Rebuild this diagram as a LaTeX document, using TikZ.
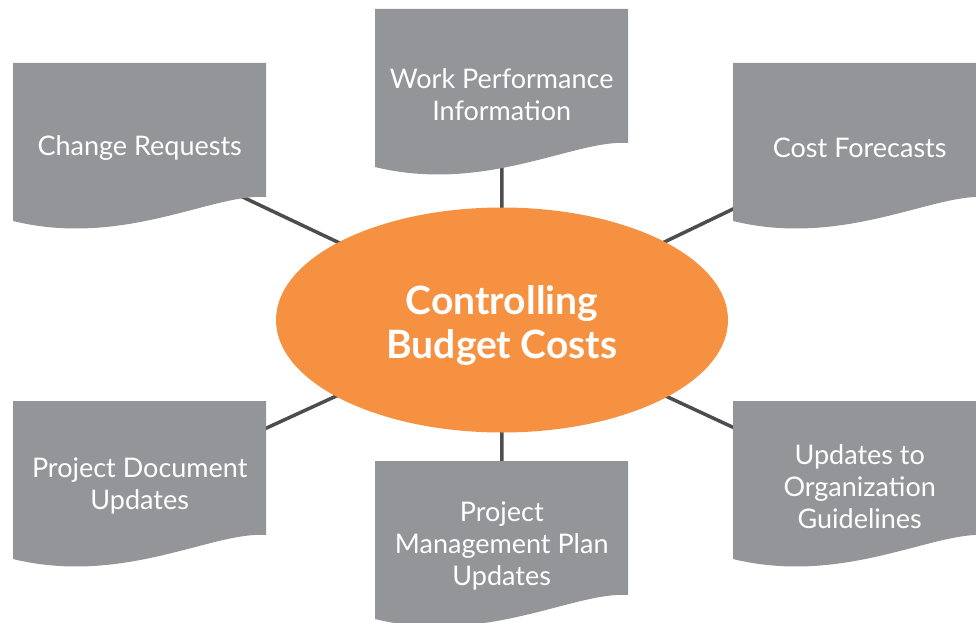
\documentclass[tikz,border=0pt]{standalone}
\usepackage{fontspec}
\setmainfont{Lato}
\usetikzlibrary{shapes.geometric,backgrounds}

\definecolor{docgray}{HTML}{939598}
\definecolor{huborange}{HTML}{F69142}
\definecolor{linkgray}{HTML}{4D4D4F}

% page shape with a wavy lower edge, hung on a docbox node
\newcommand{\docfill}[1]{%
  \fill[docgray, shift={(#1.north west)}] (0,0) -- (253,0) -- (253,134)
    .. controls (200,130) and (110,185) .. (0,158) -- cycle;}

\begin{document}
\begin{tikzpicture}[x=1pt, y=-1pt,
    hub/.style={ellipse, fill=huborange, minimum width=452pt, minimum height=225pt,
      inner sep=0pt},
    hubtext/.style={align=center, text=white, inner sep=0pt,
      font=\fontsize{39}{44}\selectfont\bfseries},
    docbox/.style={anchor=north west, minimum width=253pt, minimum height=170pt,
      inner sep=0pt, align=center, text=white, font=\fontsize{27}{32}\selectfont},
    link/.style={draw=linkgray, line width=3.5pt}]
    \useasboundingbox (0,0) rectangle (976,623);

    \node[hub] (hub) at (502,320) {};
    \node[hubtext] (title) at (502,326) {Controlling\\Budget Costs};

    \node[docbox] (cr)  at (13,63)   {Change Requests};
    \node[docbox] (wpi) at (375,9)   {Work Performance\\Information};
    \node[docbox] (cf)  at (733,63)  {Cost Forecasts};
    \node[docbox] (pdu) at (13,401)  {Project Document\\Updates};
    \node[docbox] (pmp) at (375,461) {Project\\Management Plan\\Updates};
    \node[docbox] (uog) at (733,401) {Updates to\\Organization\\Guidelines};

    \begin{scope}[on background layer]
        \clip (0,0) rectangle (976,623);
        \foreach \n in {cr,wpi,cf,pdu,pmp,uog}
            \draw[link] (hub.center) -- (\n.center);
        \foreach \n in {cr,wpi,cf,pdu,pmp,uog}
            \docfill{\n};
    \end{scope}
\end{tikzpicture}
\end{document}
